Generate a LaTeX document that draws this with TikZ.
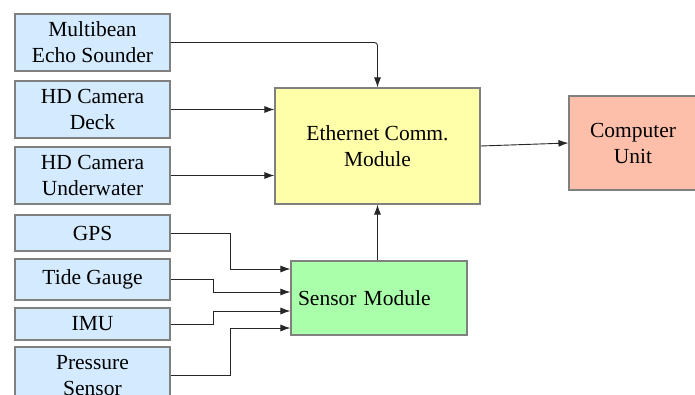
\documentclass[tikz,border=0pt]{standalone}
\usepackage{fontspec}
\setmainfont{Liberation Serif}
\usepackage{tikz}
\usetikzlibrary{arrows.meta, calc}

\definecolor{inblue}{HTML}{D4EAFE}
\definecolor{ethyellow}{HTML}{FFFFAA}
\definecolor{sensgreen}{HTML}{AAFFAA}
\definecolor{compred}{HTML}{FEBFAA}

\begin{document}
\begin{tikzpicture}[x=1pt, y=-1pt,
    every node/.style={rectangle, draw=black!50, line width=1.1pt, align=center, inner sep=0pt,
      font=\fontsize{21.5}{26}\selectfont},
    inbox/.style={fill=inblue, minimum width=155pt},
    link/.style={line width=0.9pt, draw=black!85, -{Latex[length=10pt, width=7pt]}}]
      \useasboundingbox (0,0) rectangle (695,394);
      \node[inbox, minimum height=57pt] (1) at (92.5, 42.5) {Multibean\\Echo Sounder};
      \node[inbox, minimum height=57pt] (2) at (92.5, 109.5) {HD Camera\\Deck};
      \node[inbox, minimum height=57pt] (3) at (92.5, 175.5) {HD Camera\\Underwater};
      \node[inbox, minimum height=36pt] (4) at (92.5, 233) {GPS};
      \node[inbox, minimum height=41pt] (5) at (92.5, 279.5) {Tide Gauge};
      \node[inbox, minimum height=32pt] (6) at (92.5, 324) {IMU};
      \node[inbox, minimum height=57pt] (7) at (92.5, 375.5) {Pressure\\Sensor};
      \node[fill=ethyellow, minimum width=205pt, minimum height=116pt] (8) at (377.5, 146) {Ethernet Comm.\\Module};
      \node[fill=compred, minimum width=128pt, minimum height=94pt] (9) at (633, 143) {Computer\\Unit};
      \node[fill=sensgreen, minimum height=74pt, text width=162pt, inner xsep=7pt, align=left] (10) at (379, 298) {Sensor Module};
      \draw[link, rounded corners=3pt] (1.east) -| (8.north);
      \draw[link] (2.east) -- (2.east -| 8.west);
      \draw[link] (3.east) -- (3.east -| 8.west);
      \draw[link] (4.east) -- ++(60,0) |- ($(10.west)+(0,-29)$);
      \draw[link] (5.east) -- ++(43,0) |- ($(10.west)+(0,-6)$);
      \draw[link] (6.east) -- ++(43,0) |- ($(10.west)+(0,13)$);
      \draw[link] (7.east) -- ++(60,0) |- ($(10.west)+(0,30)$);
      \draw[link] (10.north -| 8.south) -- (8.south);
      \draw[link] (8.east) -- (9.west);
    \end{tikzpicture}
\end{document}
